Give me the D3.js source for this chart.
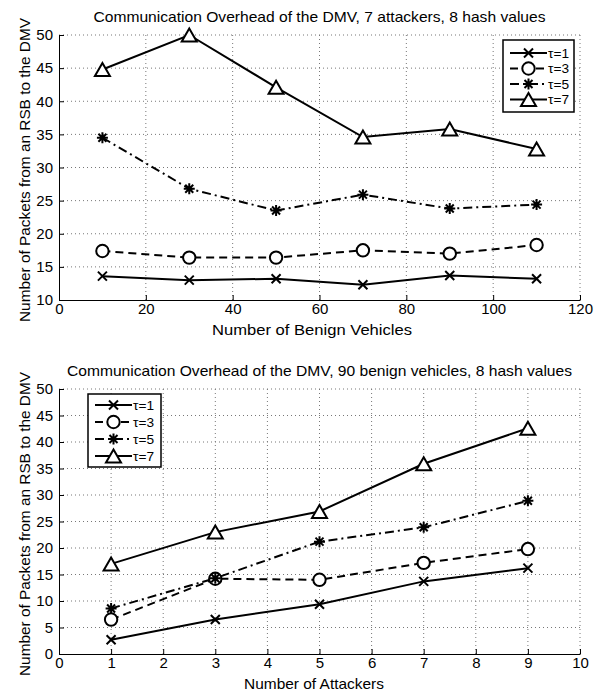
<!DOCTYPE html>
<html>
<head>
<meta charset="utf-8">
<script src="https://cdn.jsdelivr.net/npm/d3@7"></script>
<style>
  html, body { margin: 0; padding: 0; background: #fff; }
  svg { display: block; font-family: "Liberation Sans", Arial, sans-serif; }
</style>
</head>
<body>
<svg id="chart" width="607" height="693"></svg>
<script>
// Series labels shared by both panels
const seriesNames = ["τ=1", "τ=3", "τ=5", "τ=7"];

// Panel 1: 7 attackers, varying number of benign vehicles
const benignVehicles = [10, 30, 50, 70, 90, 110];
const benignTau1 = [13.6, 13.0, 13.2, 12.3, 13.7, 13.2];
const benignTau3 = [17.4, 16.4, 16.4, 17.5, 17.0, 18.3];
const benignTau5 = [34.5, 26.8, 23.5, 25.9, 23.8, 24.4];
const benignTau7 = [44.8, 50.0, 42.1, 34.6, 35.8, 32.8];
const benignXTicks = [0, 20, 40, 60, 80, 100, 120];
const benignYTicks = [10, 15, 20, 25, 30, 35, 40, 45, 50];

// Panel 2: 90 benign vehicles, varying number of attackers
const attackers = [1, 3, 5, 7, 9];
const attackTau1 = [2.7, 6.5, 9.4, 13.7, 16.2];
const attackTau3 = [6.5, 14.2, 14.0, 17.2, 19.8];
const attackTau5 = [8.6, 14.3, 21.2, 23.9, 28.9];
const attackTau7 = [17.0, 23.0, 26.9, 35.9, 42.6];
const attackXTicks = [0, 1, 2, 3, 4, 5, 6, 7, 8, 9, 10];
const attackYTicks = [0, 5, 10, 15, 20, 25, 30, 35, 40, 45, 50];

const yLabel = "Number of Packets from an RSB to the DMV";

// Line / marker styles per series
const styles = [
  { dash: null,       marker: "x" },
  { dash: "8,5",      marker: "o" },
  { dash: "9,4,2,4",  marker: "*" },
  { dash: null,       marker: "^" }
];

const svg = d3.select("#chart");

function drawMarker(g, type, cx, cy) {
  const m = g.append("g").attr("transform", `translate(${cx},${cy})`)
    .attr("fill", "none").attr("stroke", "#000").attr("stroke-width", 2);
  if (type === "x") {
    const s = 4.5;
    m.append("path").attr("d", `M${-s},${-s}L${s},${s}M${-s},${s}L${s},${-s}`);
  } else if (type === "o") {
    m.append("circle").attr("r", 6.2).attr("fill", "#fff");
  } else if (type === "*") {
    const s = 5.5, d = 4;
    m.append("path").attr("d",
      `M${-s},0L${s},0M0,${-s}L0,${s}M${-d},${-d}L${d},${d}M${-d},${d}L${d},${-d}`);
  } else if (type === "^") {
    const w = 7.5, h = 6.5;
    m.append("path").attr("d", `M0,${-h}L${w},${h}L${-w},${h}Z`).attr("fill", "#fff");
  }
}

function drawPanel(cfg) {
  const x = d3.scaleLinear().domain(cfg.xDomain).range([cfg.left, cfg.right]);
  const y = d3.scaleLinear().domain(cfg.yDomain).range([cfg.bottom, cfg.top]);
  const g = svg.append("g");

  // Dotted grid
  const grid = g.append("g").attr("stroke", "#777").attr("stroke-width", 1)
    .attr("stroke-dasharray", "1,3");
  cfg.xTicks.forEach(t => {
    if (t === cfg.xDomain[0]) return;
    grid.append("line").attr("x1", x(t)).attr("x2", x(t))
      .attr("y1", cfg.top).attr("y2", cfg.bottom);
  });
  cfg.yTicks.forEach(t => {
    if (t === cfg.yDomain[0]) return;
    grid.append("line").attr("x1", cfg.left).attr("x2", cfg.right)
      .attr("y1", y(t)).attr("y2", y(t));
  });

  // Axes (left and bottom), ticks pointing inwards
  const xAxis = d3.axisBottom(x).tickValues(cfg.xTicks).tickSizeInner(-5).tickSizeOuter(0)
    .tickPadding(3).tickFormat(d3.format("d"));
  const yAxis = d3.axisLeft(y).tickValues(cfg.yTicks).tickSizeInner(-5).tickSizeOuter(0)
    .tickPadding(6).tickFormat(d3.format("d"));
  const gx = g.append("g").attr("transform", `translate(0,${cfg.bottom})`).call(xAxis);
  const gy = g.append("g").attr("transform", `translate(${cfg.left},0)`).call(yAxis);
  [gx, gy].forEach(a => {
    a.select(".domain").attr("stroke", "#000").attr("stroke-width", 1);
    a.selectAll(".tick line").attr("stroke", "#000");
    a.selectAll(".tick text").attr("font-size", 15).attr("fill", "#000")
      .attr("font-family", "'Liberation Sans', Arial, sans-serif");
  });
  gx.selectAll(".tick text").attr("dy", "0.71em");

  // Series lines and markers
  cfg.series.forEach((vals, i) => {
    const st = styles[i];
    const line = d3.line().x((d, j) => x(cfg.xs[j])).y(d => y(d));
    g.append("path").datum(vals).attr("d", line).attr("fill", "none")
      .attr("stroke", "#000").attr("stroke-width", 2)
      .attr("stroke-dasharray", st.dash);
  });
  cfg.series.forEach((vals, i) => {
    vals.forEach((v, j) => drawMarker(g, styles[i].marker, x(cfg.xs[j]), y(v)));
  });

  // Title and axis labels
  g.append("text").attr("x", (cfg.left + cfg.right) / 2).attr("y", cfg.top - 13)
    .attr("text-anchor", "middle").attr("font-size", 14.5)
    .attr("textLength", cfg.titleLen).attr("lengthAdjust", "spacingAndGlyphs")
    .text(cfg.title);
  g.append("text").attr("x", cfg.xLabelX).attr("y", cfg.bottom + 35)
    .attr("text-anchor", "middle").attr("font-size", 15)
    .attr("textLength", cfg.xLabelLen).attr("lengthAdjust", "spacingAndGlyphs")
    .text(cfg.xLabel);
  g.append("text")
    .attr("transform", `translate(30,${cfg.yLabelY}) rotate(-90)`)
    .attr("text-anchor", "middle").attr("font-size", 15)
    .attr("textLength", 304).attr("lengthAdjust", "spacingAndGlyphs")
    .text(yLabel);

  // Legend
  const lg = g.append("g");
  const L = cfg.legend;
  lg.append("rect").attr("x", L.x).attr("y", L.y).attr("width", L.w).attr("height", L.h)
    .attr("fill", "#fff").attr("stroke", "#000").attr("stroke-width", 1.5);
  seriesNames.forEach((name, i) => {
    const ry = L.y + L.first + i * L.step;
    lg.append("line").attr("x1", L.x + 7).attr("x2", L.x + 44)
      .attr("y1", ry).attr("y2", ry).attr("stroke", "#000").attr("stroke-width", 2)
      .attr("stroke-dasharray", styles[i].dash);
    drawMarker(lg, styles[i].marker, L.x + 25.5, ry);
    lg.append("text").attr("x", L.x + 45).attr("y", ry).attr("dy", "0.36em")
      .attr("font-size", 13).attr("textLength", 21).attr("lengthAdjust", "spacingAndGlyphs")
      .text(name);
  });
}

drawPanel({
  left: 59, right: 580, top: 35, bottom: 300,
  xDomain: [0, 120], yDomain: [10, 50],
  xTicks: benignXTicks, yTicks: benignYTicks,
  xs: benignVehicles,
  series: [benignTau1, benignTau3, benignTau5, benignTau7],
  title: "Communication Overhead of the DMV, 7 attackers, 8 hash values",
  titleLen: 452,
  xLabel: "Number of Benign Vehicles", xLabelX: 312, xLabelLen: 200,
  yLabelY: 170,
  legend: { x: 503, y: 40, w: 71, h: 72, first: 13, step: 15.5 }
});

drawPanel({
  left: 59, right: 580, top: 389, bottom: 654,
  xDomain: [0, 10], yDomain: [0, 50],
  xTicks: attackXTicks, yTicks: attackYTicks,
  xs: attackers,
  series: [attackTau1, attackTau3, attackTau5, attackTau7],
  title: "Communication Overhead of the DMV, 90 benign vehicles, 8 hash values",
  titleLen: 505,
  xLabel: "Number of Attackers", xLabelX: 314, xLabelLen: 140,
  yLabelY: 524,
  legend: { x: 88, y: 394, w: 73, h: 73, first: 11, step: 17 }
});
</script>
</body>
</html>
